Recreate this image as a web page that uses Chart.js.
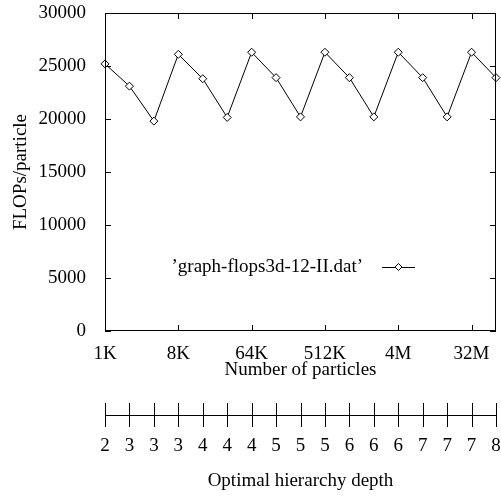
<!DOCTYPE html>
<html>
<head>
<meta charset="utf-8">
<script src="https://cdn.jsdelivr.net/npm/chart.js@4/dist/chart.umd.min.js"></script>
<style>
html, body { margin: 0; padding: 0; background: #fff; }
</style>
</head>
<body>
<canvas id="c" width="501" height="496"></canvas>
<script>
var particles = ["1K", "2K", "4K", "8K", "16K", "32K", "64K", "128K", "256K", "512K", "1M", "2M", "4M", "8M", "16M", "32M", "64M"];
var flops = [25200, 23100, 19800, 26100, 23800, 20150, 26300, 23900, 20200, 26300, 23900, 20200, 26300, 23900, 20200, 26300, 23900];
var depth = ["2", "3", "3", "3", "4", "4", "4", "5", "5", "5", "6", "6", "6", "7", "7", "7", "8"];
var seriesName = "\u2019graph-flops3d-12-II.dat\u2019";

var FONT = "Liberation Serif";

// gnuplot-like frame, inward ticks, key and the depth axis underneath
var gnuplotBits = {
    id: "gnuplotBits",
    afterDraw: function (chart) {
        var ctx = chart.ctx, a = chart.chartArea;
        var xs = chart.scales.x, ys = chart.scales.y;
        ctx.save();
        ctx.strokeStyle = "#000";
        ctx.lineWidth = 1;
        ctx.strokeRect(a.left + 0.5, a.top + 0.5, a.right - a.left - 1, a.bottom - a.top - 1);

        ctx.beginPath();
        ys.ticks.forEach(function (t) {
            var y = Math.round(ys.getPixelForValue(t.value)) + 0.5;
            ctx.moveTo(a.left, y); ctx.lineTo(a.left + 6, y);
            ctx.moveTo(a.right, y); ctx.lineTo(a.right - 6, y);
        });
        for (var i = 0; i < particles.length; i += 3) {
            var x = Math.round(xs.getPixelForValue(i)) + 0.5;
            ctx.moveTo(x, a.bottom); ctx.lineTo(x, a.bottom - 6);
            ctx.moveTo(x, a.top); ctx.lineTo(x, a.top + 6);
        }
        ctx.stroke();

        // key
        var ky = 267;
        ctx.font = "19px '" + FONT + "'";
        ctx.fillStyle = "#000";
        ctx.textAlign = "right";
        ctx.textBaseline = "middle";
        ctx.fillText(chart.data.datasets[0].label, 363, ky);
        ctx.beginPath();
        ctx.moveTo(382, ky + 0.5); ctx.lineTo(415, ky + 0.5);
        ctx.stroke();
        ctx.beginPath();
        ctx.moveTo(398.5, ky - 3.5); ctx.lineTo(402, ky); ctx.lineTo(398.5, ky + 3.5); ctx.lineTo(395, ky);
        ctx.closePath();
        ctx.fillStyle = "#fff"; ctx.fill(); ctx.stroke();

        // depth axis
        var ly = 415.5;
        ctx.beginPath();
        ctx.moveTo(xs.getPixelForValue(0), ly);
        ctx.lineTo(xs.getPixelForValue(depth.length - 1), ly);
        depth.forEach(function (d, j) {
            var x = Math.round(xs.getPixelForValue(j)) + 0.5;
            ctx.moveTo(x, 403); ctx.lineTo(x, 427);
        });
        ctx.stroke();
        ctx.fillStyle = "#000";
        ctx.textAlign = "center";
        depth.forEach(function (d, j) {
            ctx.fillText(d, xs.getPixelForValue(j), 446);
        });
        ctx.fillText("Optimal hierarchy depth", (a.left + a.right) / 2, 481);
        ctx.restore();
    }
};

new Chart(document.getElementById("c"), {
    type: "line",
    data: {
        labels: particles,
        datasets: [{
            label: seriesName,
            data: flops,
            borderColor: "#000",
            borderWidth: 1,
            backgroundColor: "#fff",
            pointStyle: "rectRot",
            pointRadius: 4,
            pointBorderWidth: 1,
            pointBackgroundColor: "#fff",
            pointBorderColor: "#000",
            tension: 0
        }]
    },
    options: {
        responsive: false,
        animation: false,
        layout: { padding: { top: 13, right: 1, bottom: 115, left: 0 } },
        plugins: { legend: { display: false }, tooltip: { enabled: false } },
        scales: {
            x: {
                type: "category",
                offset: false,
                grid: { display: false },
                border: { display: false },
                ticks: {
                    autoSkip: false,
                    maxRotation: 0,
                    padding: 4,
                    color: "#000",
                    font: { family: FONT, size: 19 },
                    callback: function (v, i) { return i % 3 === 0 ? particles[i] : ""; }
                },
                title: {
                    display: true,
                    text: "Number of particles",
                    color: "#000",
                    font: { family: FONT, size: 19 },
                    padding: 0
                },
                afterFit: function (s) { s.height = 50; s.paddingLeft = 0; s.paddingRight = 0; }
            },
            y: {
                min: 0,
                max: 30000,
                grid: { display: false },
                border: { display: false },
                ticks: {
                    stepSize: 5000,
                    padding: 11,
                    color: "#000",
                    font: { family: FONT, size: 19 },
                    callback: function (v) { return String(v); }
                },
                title: {
                    display: true,
                    text: "FLOPs/particle",
                    color: "#000",
                    font: { family: FONT, size: 19 },
                    padding: { top: 10, bottom: 0 }
                },
                afterFit: function (s) { s.width = 105; s.paddingTop = 0; s.paddingBottom = 0; }
            }
        }
    },
    plugins: [gnuplotBits]
});
</script>
</body>
</html>
